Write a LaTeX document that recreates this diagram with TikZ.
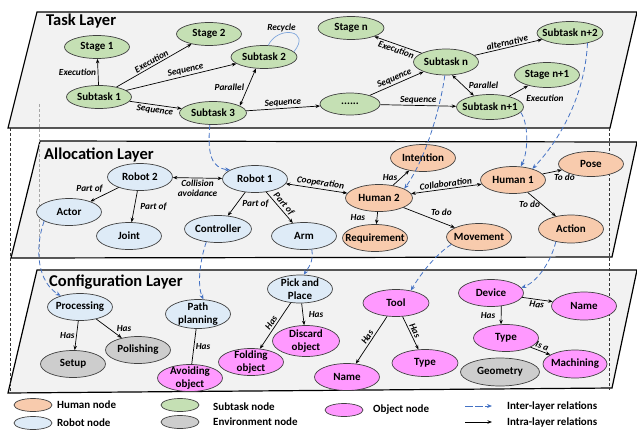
\documentclass[tikz,border=0pt]{standalone}
\usepackage{fontspec}
\setmainfont{Carlito}
\usetikzlibrary{shapes.geometric,arrows.meta}

\definecolor{layerfill}{HTML}{F2F2F2}
\definecolor{humanfill}{HTML}{F8CBAD}
\definecolor{robotfill}{HTML}{DEEBF7}
\definecolor{subtaskfill}{HTML}{C5E0B4}
\definecolor{envfill}{HTML}{CDCDCD}
\definecolor{objfill}{HTML}{FF99FF}
\definecolor{interblue}{HTML}{4472C4}
\definecolor{loopblue}{HTML}{7FA6DC}

\tikzset{
  layer/.style={fill=layerfill, draw=black, line width=1.2pt, line join=miter},
  title/.style={font=\bfseries\fontsize{16.5}{18}\selectfont, inner sep=0pt, anchor=west},
  ell/.style={ellipse, draw=black!75, line width=0.7pt, inner xsep=-10pt, inner ysep=-3pt,
    font=\bfseries\fontsize{11}{12.5}\selectfont, align=center,
    minimum width=65pt, minimum height=27pt},
  hum/.style={ell, fill=humanfill},
  rob/.style={ell, fill=robotfill},
  sub/.style={ell, fill=subtaskfill, minimum height=23pt},
  env/.style={ell, fill=envfill},
  obj/.style={ell, fill=objfill},
  legell/.style={ellipse, draw=black!75, line width=0.7pt, inner sep=0pt,
    minimum width=38pt, minimum height=13pt},
  legtext/.style={font=\bfseries\fontsize{11}{12}\selectfont, anchor=west, inner sep=0pt},
  lbl/.style={font=\bfseries\itshape\fontsize{9.3}{10}\selectfont, inner sep=1.5pt, align=center},
  arr/.style={-{Stealth[length=4.5pt,width=3.5pt]}, line width=0.7pt},
  arrboth/.style={{Stealth[length=4.5pt,width=3.5pt]}-{Stealth[length=4.5pt,width=3.5pt]}, line width=0.7pt},
  plainline/.style={line width=0.7pt},
  inter/.style={-{Stealth[length=5pt,width=4pt]}, draw=interblue, line width=0.8pt,
    dash pattern=on 5pt off 3pt},
  guide/.style={dash pattern=on 3pt off 2pt, line width=0.6pt},
}

\begin{document}
\begin{tikzpicture}[x=1pt,y=-1pt]
\useasboundingbox (0,0) rectangle (637,429);

% ---------- layer planes ----------
\draw[layer] (37,12) -- (637,12) -- (610,128) -- (8,128) -- cycle;
\draw[layer] (40,141) -- (637,142) -- (612,257) -- (11,258) -- cycle;
\draw[layer] (37,270) -- (637,270) -- (612,388) -- (8,393) -- cycle;

% vertical guide lines between the planes
\draw[guide, draw=black!80] (10,128) -- (10,393);
\draw[guide, draw=black!80] (609,128) -- (609,390);
\draw[guide, draw=black!35] (39,104) -- (39,258);

\node[title] (ttask) at (46,21) {Task Layer};
\node[title] (talloc) at (44,155) {Allocation Layer};
\node[title] (tconf) at (49,282) {Configuration Layer};

% ---------- task layer ----------
\node[sub] (s1) at (97,47) {Stage 1};
\node[sub] (s2) at (209,34) {Stage 2};
\node[sub, minimum width=66pt] (t2) at (264,57) {Subtask 2};
\node[sub] (t1) at (99,97) {Subtask 1};
\node[sub, minimum width=67pt] (t3) at (213,113) {Subtask 3};
\node[sub, minimum width=66pt] (sn) at (351,28) {Stage n};
\node[sub, minimum height=26pt] (tn) at (446,62) {Subtask n};
\node[sub, minimum width=66pt] (tn2) at (570,33) {Subtask n+2};
\node[sub, minimum height=25pt] (sn1) at (547,75) {Stage n+1};
\node[sub, minimum width=60pt, minimum height=22pt] (dots) at (350,104) {......};
\node[sub, minimum width=67pt, minimum height=25pt] (tn1) at (490,107) {Subtask n+1};

\draw[arr] (t1) -- node[lbl,left] {Execution} (s1);
\draw[arr] (t1) -- node[lbl,sloped,above] {Execution} (s2);
\draw[arr] (t1) -- node[lbl,sloped,above,pos=0.55] {Sequence} (t2);
\draw[arr] (t1) -- node[lbl,sloped,below] {Sequence} (t3);
\draw[arrboth] (t3.15) -- node[lbl,left,xshift=-2pt] {Parallel} (t2.235);
\draw[arr] (t3) -- node[lbl,sloped,above] {Sequence} (dots);
\draw[arr] (dots) -- node[lbl,sloped,above] {Sequence} (tn);
\draw[arr] (dots) -- node[lbl,above] {Sequence} (tn1);
\draw[arr] (tn.160) -- node[lbl,sloped,below] {Execution} (sn.-20);
\draw[arr] (tn) -- node[lbl,sloped,above] {alternative} (tn2);
\draw[arrboth] (tn.-65) -- node[lbl,right,xshift=4pt] {Parallel} (tn1.145);
\draw[arr] (tn1) -- node[lbl,anchor=west,xshift=6pt,yshift=-7pt] {Execution} (sn1);
\draw[draw=loopblue, line width=0.7pt] (t2.70) .. controls (278,25) and (312,30) .. node[lbl,above,pos=0.3] {Recycle} (t2.10);

% ---------- allocation layer ----------
\node[rob] (r2) at (140,177) {Robot 2};
\node[rob] (r1) at (255,179) {Robot 1};
\node[rob] (act) at (69,212) {Actor};
\node[rob] (jnt) at (129,236) {Joint};
\node[rob, minimum width=67pt] (ctl) at (218,229) {Controller};
\node[rob] (arm) at (304,236) {Arm};
\node[hum] (int) at (423,158) {Intention};
\node[hum, minimum width=67pt] (h2) at (379,198) {Human 2};
\node[hum] (h1) at (513,180) {Human 1};
\node[hum, minimum height=25pt] (pose) at (591,164) {Pose};
\node[hum] (req) at (375,238) {Requirement};
\node[hum] (mov) at (479,237) {Movement};
\node[hum, minimum height=28pt] (actn) at (571,229) {Action};

\draw[arr] (r2) -- node[lbl,above left] {Part of} (act);
\draw[arr] (r2) -- node[lbl,right,xshift=4pt] {Part of} (jnt);
\draw[arrboth] (r2) -- node[lbl,below] {Collision\\avoidance} (r1);
\draw[arr] (r1) -- node[lbl,right,xshift=4pt] {Part of} (ctl);
\draw[arr] (r1) -- node[lbl,sloped,above] {Part of} (arm);
\draw[arrboth] (h2) -- node[lbl,sloped,above,pos=0.45] {Cooperation} (r1);
\draw[arr] (h2) -- node[lbl,left,xshift=-2pt] {Has} (int);
\draw[arrboth] (h1) -- node[lbl,sloped,above] {Collaboration} (h2);
\draw[arr] (h2) -- node[lbl,left,xshift=-10pt] {Has} (req);
\draw[arr] (h2) -- node[lbl,above right] {To do} (mov);
\draw[arr] (h1) -- node[lbl,below right] {To do} (pose);
\draw[arr] (h1) -- node[lbl,left] {To do} (actn);

% ---------- configuration layer ----------
\node[rob] (proc) at (80,307) {Processing};
\node[env] (pol) at (138,350) {Polishing};
\node[env] (set) at (73,364) {Setup};
\node[rob, minimum height=29pt] (pp) at (198,314) {Path\\planning};
\node[obj] (avo) at (190,378) {Avoiding\\object};
\node[obj] (fold) at (251,362) {Folding\\object};
\node[rob, minimum height=28pt] (pick) at (300,289) {Pick and\\Place};
\node[obj, minimum width=67pt, minimum height=31pt] (disc) at (306,341) {Discard\\object};
\node[obj] (tname) at (347,377) {Name};
\node[obj, minimum width=66pt] (tool) at (396,303) {Tool};
\node[obj, minimum width=66pt] (ttype) at (425,363) {Type};
\node[obj] (dev) at (491,293) {Device};
\node[obj, minimum height=28pt] (dname) at (584,306) {Name};
\node[obj] (dtype) at (506,338) {Type};
\node[env, minimum width=79pt, minimum height=28pt] (geo) at (500,372) {Geometry};
\node[obj, minimum width=64pt, minimum height=28pt] (mach) at (575,364) {Machining};

\draw[arr] (proc) -- node[lbl,left] {Has} (set);
\draw[arr] (proc) -- node[lbl,right,xshift=6pt] {Has} (pol);
\draw[plainline] (pp) -- node[lbl,right] {Has} (avo);
\draw[arr] (pick) -- node[lbl,sloped,above] {Has} (fold);
\draw[arr] (pick) -- node[lbl,right,xshift=4pt] {Has} (disc);
\draw[arr] (tool) -- node[lbl,sloped,above] {Has} (tname);
\draw[arr] (tool) -- node[lbl,sloped,above] {Has} (ttype);
\draw[arr] (dev) -- node[lbl,sloped,below] {Has} (dname);
\draw[arr] (dev.-52) -- node[lbl,left,xshift=-4pt] {Has} (dtype.110);
\draw[arr] (dtype) -- node[lbl,sloped,above] {Is a} (mach);

% ---------- inter-layer relations ----------
\draw[inter] (t3.255) .. controls (207,155) and (212,168) .. (r1.160);
\draw[inter] (tn.-95) .. controls (440,110) and (425,160) .. (h2.20);
\draw[inter] (tn1.-10) .. controls (528,122) and (529,150) .. (h1.60);
\draw[inter] (tn2.-30) .. controls (585,95) and (560,140) .. (h1.30);
\draw[inter] (act.200) .. controls (34,250) and (38,282) .. (proc.150);
\draw[inter] (ctl.228) .. controls (200,260) and (197,285) .. (pp.70);
\draw[inter] (arm.300) .. controls (314,262) and (308,268) .. (pick.75);
\draw[inter] (mov.195) .. controls (435,255) and (420,275) .. (tool.40);
\draw[inter] (actn.220) .. controls (550,265) and (535,283) .. (dev.10);

% ---------- legend ----------
\node[legell, fill=humanfill] (lhum) at (33,405) {};
\node[legtext] (lhumt) at (57,405) {Human node};
\node[legell, fill=robotfill] (lrob) at (33,423) {};
\node[legtext] (lrobt) at (57,423) {Robot node};
\node[legell, fill=subtaskfill] (lsub) at (180,405) {};
\node[legtext] (lsubt) at (213,407) {Subtask node};
\node[legell, fill=envfill] (lenv) at (180,422) {};
\node[legtext] (lenvt) at (213,422) {Environment node};
\node[legell, fill=objfill] (lobj) at (344,410) {};
\node[legtext] (lobjt) at (373,410) {Object node};
\coordinate (ia) at (465,406);
\coordinate (ib) at (492,406);
\coordinate (ja) at (465,422);
\coordinate (jb) at (492,422);
\draw[inter, dash pattern=on 8pt off 2pt] (ia) -- (ib);
\draw[arr, line width=1pt] (ja) -- (jb);
\node[legtext] (lint) at (507,406) {Inter-layer relations};
\node[legtext] (lintra) at (507,422) {Intra-layer relations};
\end{tikzpicture}
\end{document}
